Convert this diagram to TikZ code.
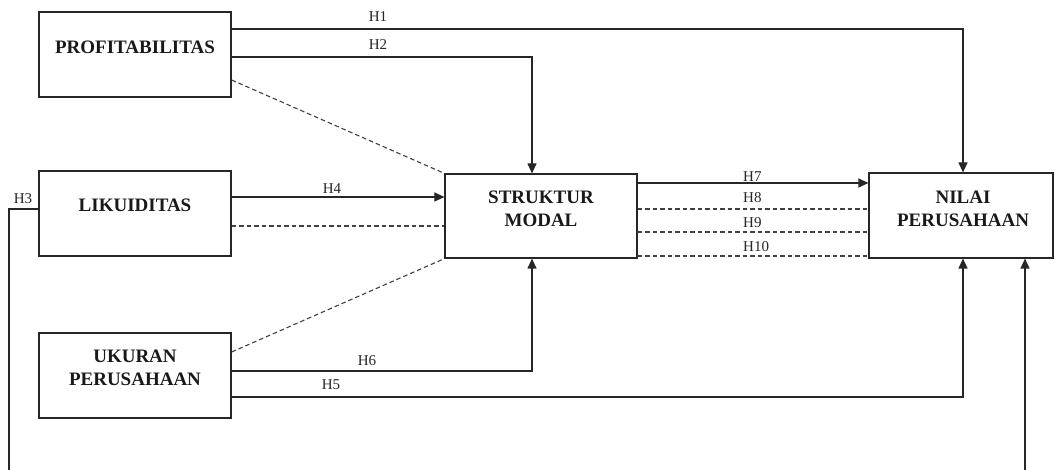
\documentclass[tikz,border=0pt]{standalone}
\usepackage{fontspec}
\setmainfont{Liberation Serif}
\usetikzlibrary{arrows.meta}

\begin{document}
\begin{tikzpicture}[x=1pt,y=-1pt,
  varbox/.style={draw=black!85, line width=1.2pt, fill=white, minimum width=192pt, minimum height=85pt, inner sep=0pt},
  boxtext/.style={font=\bfseries\fontsize{19}{23}\selectfont, align=center, inner sep=0pt, text=black!90},
  hlabel/.style={font=\fontsize{15}{16}\selectfont, inner sep=0pt, text=black!85},
  solidline/.style={draw=black!85, line width=1.2pt},
  arr/.style={solidline, -{Triangle[length=10pt,width=9pt]}},
  dashline/.style={draw=black!75, line width=1.1pt, dash pattern=on 4.5pt off 3pt}]
\clip (0,0) rectangle (1055,470);
\fill[white] (0,0) rectangle (1055,470);
% variables
\node[varbox, label={[boxtext, yshift=7pt]center:PROFITABILITAS}] (prof) at (135,54.5) {};
\node[varbox, label={[boxtext, yshift=8pt]center:LIKUIDITAS}] (liku) at (135,213.5) {};
\node[varbox, label={[boxtext, yshift=8pt]center:UKURAN\\PERUSAHAAN}] (ukuran) at (135,375.5) {};
\node[varbox, minimum height=84pt, label={[boxtext, yshift=7pt]center:STRUKTUR\\MODAL}] (struktur) at (541,216) {};
\node[varbox, minimum width=184pt, label={[boxtext, yshift=6.5pt, xshift=2pt]center:NILAI\\PERUSAHAAN}] (nilai) at (961,215.5) {};
% direct paths
\draw[arr] ([yshift=25.5pt]prof.east) -| ([xshift=2pt]nilai.north);
\draw[arr] ([yshift=-2.5pt]prof.east) -| ([xshift=-9pt]struktur.north);
\draw[arr] ([yshift=4.5pt]ukuran.east) -| ([xshift=-9pt]struktur.south);
\draw[arr] ([yshift=-21.5pt]ukuran.east) -| ([xshift=2pt]nilai.south);
\coordinate (h4s) at ([yshift=16.5pt]liku.east);
\draw[arr] (h4s) -- (h4s -| struktur.west);
\draw[arr] ([yshift=4.5pt]liku.west) -| (9,520) -| ([xshift=64pt]nilai.south);
\coordinate (h7s) at ([yshift=33pt]struktur.east);
\draw[arr] (h7s) -- (h7s -| nilai.west);
% mediated paths
\draw[dashline] ([yshift=-25.5pt]prof.east) -- (struktur.north west);
\draw[dashline] ([yshift=23.5pt]ukuran.east) -- (struktur.south west);
\coordinate (dliku) at ([yshift=-12.5pt]liku.east);
\draw[dashline] (dliku) -- (dliku -| struktur.west);
\foreach \dy in {7,-16,-40}{
  \coordinate (dst) at ([yshift=\dy pt]struktur.east);
  \draw[dashline] (dst) -- (dst -| nilai.west);
}
% hypothesis labels
\node[hlabel] (h1) at (378,17) {H1};
\node[hlabel] (h2) at (378,45) {H2};
\node[hlabel] (h3) at (23,199) {H3};
\node[hlabel] (h4) at (332,189) {H4};
\node[hlabel] (h5) at (331,385) {H5};
\node[hlabel] (h6) at (367,361) {H6};
\node[hlabel, anchor=west] (h7) at (743,177) {H7};
\node[hlabel, anchor=west] (h8) at (743,198) {H8};
\node[hlabel, anchor=west] (h9) at (743,223) {H9};
\node[hlabel, anchor=west] (h10) at (743,246.5) {H10};
\end{tikzpicture}
\end{document}
